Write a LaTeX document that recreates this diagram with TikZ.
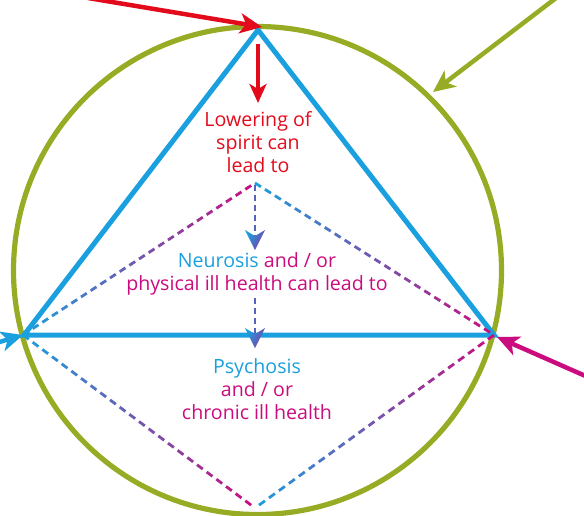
\documentclass[tikz,border=0pt]{standalone}
\usepackage{fontspec}
\setmainfont{Open Sans}
\usetikzlibrary{arrows.meta,calc}
\definecolor{tred}{HTML}{E30A1B}
\definecolor{tblue}{HTML}{1AA0DF}
\definecolor{tgreen}{HTML}{97AC24}
\definecolor{tmag}{HTML}{CB0C7E}
\definecolor{tpurp}{HTML}{6E48B0}
\newcommand\gradedash[4]{%
  \foreach \i in {0,...,23}{%
    \pgfmathsetmacro\ta{\i/24}%
    \pgfmathsetmacro\tb{(\i+0.6)/24}%
    \pgfmathtruncatemacro\pc{100*(\i+0.3)/24}%
    \draw[dashseg,color={#4!\pc!#3}] ($(#1)!\ta!(#2)$) -- ($(#1)!\tb!(#2)$);
  }%
}
\begin{document}
\begin{tikzpicture}[x=1pt,y=-1pt,
  dashseg/.style={line width=2.8pt},
  solidarrow/.style={line width=4.5pt,-{Stealth[length=22pt,width=20pt,inset=6pt]}},
  lbl/.style={font=\fontsize{19.6}{23}\selectfont,align=center,inner sep=0pt},
]
\useasboundingbox (0,0) rectangle (584,515);
\clip (0,0) rectangle (584,515);
% circle
\node[draw=tgreen,line width=5.2pt,circle,minimum size=488pt,inner sep=0pt] (circ) at (257.5,270.5) {};
% triangle
\coordinate (A) at (258,30);
\coordinate (L) at (24,335);
\coordinate (R) at (494,335);
\draw[tblue,line width=5pt,line join=miter] (A) -- (L) -- (R) -- cycle;
% diamond
\coordinate (DT) at (255,183);
\coordinate (DL) at (23,335);
\coordinate (DR) at (494,335);
\coordinate (DB) at (255,508);
\gradedash{DL}{DT}{tblue}{tmag}
\gradedash{DT}{DR}{tblue}{tmag}
\gradedash{DR}{DB}{tmag}{tblue}
\gradedash{DL}{DB}{tblue}{tmag}
% outer arrows
\coordinate (rs) at (88,-2);
\coordinate (rt) at (262,27);
\draw[solidarrow,tred] (rs) -- (rt);
\coordinate (gs) at (556,-2);
\coordinate (gt) at (433,92);
\draw[solidarrow,tgreen] (gs) -- (gt);
\coordinate (bs) at (-4,343);
\coordinate (bt) at (23,335);
\draw[solidarrow,tblue] (bs) -- (bt);
\coordinate (ms) at (590,378);
\coordinate (mt) at (497,337);
\draw[solidarrow,tmag] (ms) -- (mt);
\coordinate (ds) at (258,44);
\coordinate (dt) at (258,103);
\draw[line width=4pt,tred,-{Stealth[length=19pt,width=17pt,inset=5pt]}] (ds) -- (dt);
% texts
\node[lbl,text=tred] (t1) at (258,142) {Lowering of\\spirit can\\lead to};
\node[lbl,text=tmag] (t2) at (257,274) {\textcolor{tblue}{Neurosis} and / or\\physical ill health can lead to};
\node[lbl,text=tmag] (t3) at (257,389) {\textcolor{tblue}{Psychosis}\\and / or\\chronic ill health};
% dashed arrows
\foreach \ya/\yb/\yt in {185/236/250, 298/334/348}{
  \draw[line width=2.8pt,dash pattern=on 6pt off 4pt,tpurp!70!tblue] (255,\ya) -- (255,\yb);
  \shade[left color=tblue,right color=tpurp!80!tmag,shading angle=60]
    (255,\yt) -- (245,\yt-20) -- (255,\yt-14) -- (265,\yt-20) -- cycle;
}
\end{tikzpicture}
\end{document}
